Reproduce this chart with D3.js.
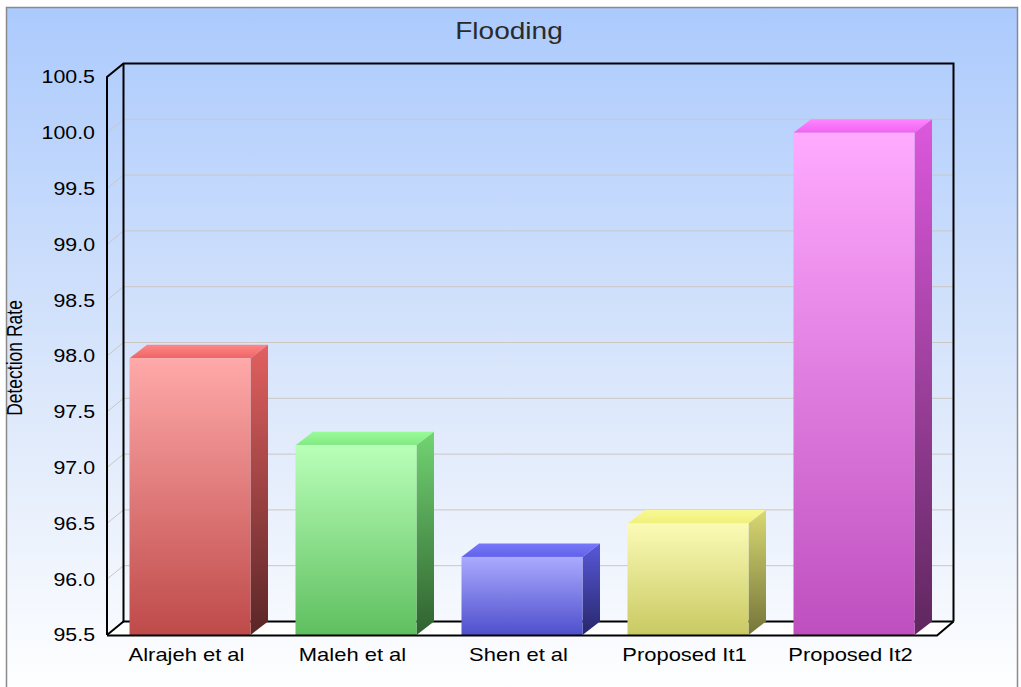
<!DOCTYPE html>
<html>
<head>
<meta charset="utf-8">
<script src="https://cdn.jsdelivr.net/npm/d3@7"></script>
<style>
  html, body { margin: 0; padding: 0; background: #ffffff; }
  svg { display: block; }
</style>
</head>
<body>
<svg id="chart" width="1021" height="687"></svg>
<script>
// Chart data
const categories = ["Alrajeh et al", "Maleh et al", "Shen et al", "Proposed It1", "Proposed It2"];
const detectionRate = [97.98, 97.2, 96.2, 96.5, 100.0];
const yTicks = [95.5, 96.0, 96.5, 97.0, 97.5, 98.0, 98.5, 99.0, 99.5, 100.0, 100.5];
const chartTitle = "Flooding";
const yAxisTitle = "Detection Rate";

// Face colours per bar: front (top, bottom), top face (back, front), side (top, bottom)
const barColors = [
  { front: ["#ffa9a9", "#bf4a4a"], topFace: ["#ff8686", "#ee6565"], side: ["#e26060", "#5a2626"] },
  { front: ["#b9ffb9", "#5fbf5f"], topFace: ["#98fb98", "#82ea82"], side: ["#72d472", "#2f612f"] },
  { front: ["#aaaaff", "#4f4fcd"], topFace: ["#7878fa", "#6262ea"], side: ["#5858da", "#27276b"] },
  { front: ["#fbfbb6", "#c9c963"], topFace: ["#f8f894", "#f0f07c"], side: ["#d8d872", "#75753a"] },
  { front: ["#ffaaff", "#bf4fbf"], topFace: ["#ff86ff", "#f062f0"], side: ["#dd58dd", "#5e275e"] }
];

const svg = d3.select("#chart");
const defs = svg.append("defs");

// 3D geometry of the plot box
const plotLeft = 107, plotRight = 937, plotBottom = 635, plotTop = 77;
const wallDx = 16.5, wallDy = 13.5;   // depth of the back wall
const barDx = 17.5, barDy = 13.5;     // depth of each bar

const x = d3.scaleBand().domain(categories).range([plotLeft, plotRight])
  .paddingInner(0.271).paddingOuter(0.1355);
const y = d3.scaleLinear().domain([95.5, 100.5]).range([plotBottom, plotTop]);

// Panel background
const bg = defs.append("linearGradient").attr("id", "bgGrad")
  .attr("x1", 0).attr("y1", 0).attr("x2", 0).attr("y2", 1);
bg.append("stop").attr("offset", "0%").attr("stop-color", "#abcafd");
bg.append("stop").attr("offset", "55%").attr("stop-color", "#dbe7fb");
bg.append("stop").attr("offset", "100%").attr("stop-color", "#ffffff");

svg.append("rect").attr("x", 6.5).attr("y", 7.5).attr("width", 1011).attr("height", 690)
  .attr("fill", "url(#bgGrad)").attr("stroke", "#8a8a8a").attr("stroke-width", 1.5);

// Gridlines on the back wall and left side wall
const grid = svg.append("g").attr("fill", "none").attr("stroke", "#cbc7c2").attr("stroke-width", 1);
grid.selectAll("path").data(yTicks.slice(1, -1)).join("path")
  .attr("d", d => {
    const yy = y(d);
    return `M${plotLeft},${yy} L${plotLeft + wallDx},${yy - wallDy} L${plotRight + wallDx},${yy - wallDy}`;
  });

// Floor
svg.append("path")
  .attr("d", `M${plotLeft},${plotBottom} L${plotLeft + wallDx},${plotBottom - wallDy} L${plotRight + wallDx},${plotBottom - wallDy} L${plotRight},${plotBottom} Z`)
  .attr("fill", "#ffffff");

// Box frame
const frame = svg.append("g").attr("fill", "none").attr("stroke", "#000").attr("stroke-width", 2)
  .attr("stroke-linejoin", "miter");
frame.append("path").attr("d",
  `M${plotLeft},${plotBottom} L${plotLeft},${plotTop} L${plotLeft + wallDx},${plotTop - wallDy} L${plotRight + wallDx},${plotTop - wallDy} L${plotRight + wallDx},${plotBottom - wallDy}`);
frame.append("path").attr("d",
  `M${plotLeft + wallDx},${plotTop - wallDy} L${plotLeft + wallDx},${plotBottom - wallDy} L${plotRight + wallDx},${plotBottom - wallDy}`);
frame.append("path").attr("d",
  `M${plotLeft},${plotBottom} L${plotLeft + wallDx},${plotBottom - wallDy}`);

// Gradients for the bars
barColors.forEach((c, i) => {
  const mk = (id, stops) => {
    const g = defs.append("linearGradient").attr("id", id)
      .attr("x1", 0).attr("y1", 0).attr("x2", 0).attr("y2", 1);
    g.append("stop").attr("offset", "0%").attr("stop-color", stops[0]);
    g.append("stop").attr("offset", "100%").attr("stop-color", stops[1]);
  };
  mk(`front${i}`, c.front);
  mk(`topFace${i}`, c.topFace);
  mk(`side${i}`, c.side);
});

// Bars
const bars = svg.append("g").selectAll("g").data(categories).join("g");
bars.each(function (cat, i) {
  const g = d3.select(this);
  const x0 = x(cat), x1 = x0 + x.bandwidth();
  const yt = y(detectionRate[i]), yb = y(95.5);
  g.append("path")
    .attr("d", `M${x0},${yt} L${x0 + barDx},${yt - barDy} L${x1 + barDx},${yt - barDy} L${x1},${yt} Z`)
    .attr("fill", `url(#topFace${i})`);
  g.append("path")
    .attr("d", `M${x1},${yt} L${x1 + barDx},${yt - barDy} L${x1 + barDx},${yb - barDy} L${x1},${yb} Z`)
    .attr("fill", `url(#side${i})`);
  g.append("rect")
    .attr("x", x0).attr("y", yt).attr("width", x.bandwidth()).attr("height", yb - yt)
    .attr("fill", `url(#front${i})`);
});

// Front floor edges drawn over the bar bases
const floorFront = svg.append("g").attr("fill", "none").attr("stroke", "#000").attr("stroke-width", 2);
floorFront.append("path").attr("d",
  `M${plotLeft},${plotBottom + 0.5} L${plotRight},${plotBottom + 0.5} L${plotRight + wallDx},${plotBottom - wallDy}`);

// Text is rendered slightly wide
const stretch = "scale(1.22,1)";
const font = "'Liberation Sans', Arial, Helvetica, sans-serif";

// Y tick labels
svg.append("g").selectAll("text").data(yTicks).join("text")
  .attr("transform", d => `translate(95,${y(d)}) ${stretch}`)
  .attr("dy", "0.36em")
  .attr("text-anchor", "end")
  .attr("font-family", font).attr("font-size", 17.5).attr("fill", "#000")
  .text(d => d3.format(".1f")(d));

// Category labels
svg.append("g").selectAll("text").data(categories).join("text")
  .attr("transform", d => `translate(${x(d) + x.bandwidth() / 2 - 3.5},661) ${stretch}`)
  .attr("text-anchor", "middle")
  .attr("font-family", font).attr("font-size", 18).attr("fill", "#000")
  .text(d => d);

// Title
svg.append("text")
  .attr("transform", `translate(509,39) ${stretch}`)
  .attr("text-anchor", "middle")
  .attr("font-family", font).attr("font-size", 23).attr("fill", "#2a2a2a")
  .text(chartTitle);

// Y axis title
svg.append("text")
  .attr("transform", `translate(22,358) ${stretch} rotate(-90)`)
  .attr("text-anchor", "middle")
  .attr("font-family", font).attr("font-size", 17.5).attr("fill", "#000")
  .text(yAxisTitle);
</script>
</body>
</html>
